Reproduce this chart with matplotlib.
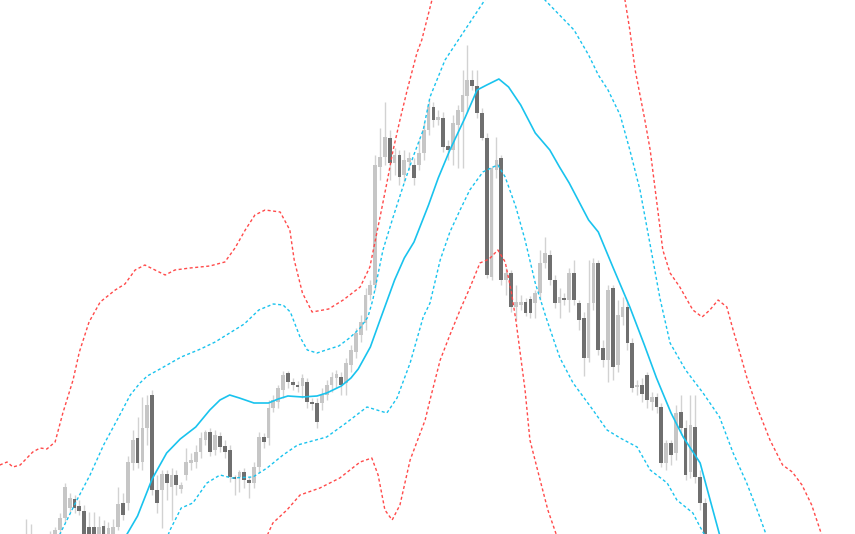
import matplotlib
matplotlib.use("Agg")
import matplotlib.pyplot as plt
import numpy as np

# Candles (vertical values in screen units, 0 = top, 534 = bottom)
opens = [546, 537, 545, 552, 548, 542, 538, 530, 518, 508, 499, 506, 511, 527, 527, 540, 526, 540, 540, 527,
         503, 503, 463, 438, 462, 428, 395, 490, 490, 474, 487, 475, 489, 475, 463, 462, 452, 440, 432, 450,
         436, 446, 450, 477, 477, 472, 480, 483, 467, 437, 438, 408, 402, 390, 373, 382, 385, 386, 382, 402,
         403, 403, 395, 385, 378, 377, 383, 365, 352, 335, 323, 295, 285, 167, 157, 138, 163, 155, 175, 162,
         165, 165, 153, 130, 107, 120, 118, 146, 150, 125, 112, 96, 80, 86, 113, 138, 277, 170, 158, 280,
         273, 307, 305, 302, 299, 303, 293, 263, 255, 280, 303, 298, 300, 273, 303, 318, 358, 303, 263, 348,
         360, 288, 365, 317, 307, 343, 387, 385, 375, 402, 397, 407, 463, 443, 453, 412, 428, 472, 427, 477,
         503]
closes = [538, 548, 555, 545, 540, 535, 530, 518, 487, 498, 508, 511, 540, 540, 540, 527, 540, 528, 527, 504,
          515, 462, 440, 463, 428, 405, 490, 503, 474, 483, 475, 485, 485, 462, 460, 452, 438, 432, 452, 435,
          447, 452, 477, 479, 472, 480, 483, 467, 437, 442, 408, 400, 388, 375, 382, 385, 387, 378, 402, 404,
          422, 395, 385, 377, 374, 385, 363, 350, 333, 322, 295, 285, 165, 157, 137, 163, 155, 177, 160, 158,
          178, 153, 130, 107, 120, 117, 147, 150, 123, 110, 95, 80, 86, 113, 138, 275, 168, 160, 280, 273,
          307, 302, 302, 313, 313, 293, 263, 253, 280, 303, 297, 300, 273, 300, 320, 358, 303, 263, 350, 360,
          290, 367, 315, 307, 343, 388, 385, 394, 400, 397, 407, 463, 443, 455, 413, 428, 475, 425, 477, 503,
          540]
highs = [519, 524, 538, 540, 536, 531, 527, 513, 483, 493, 495, 500, 505, 512, 512, 516, 520, 522, 519, 487,
         493, 456, 430, 417, 397, 395, 390, 475, 470, 470, 468, 470, 482, 448, 453, 445, 432, 430, 428, 430,
         432, 440, 445, 475, 470, 468, 477, 462, 432, 433, 400, 395, 385, 371, 371, 378, 381, 374, 378, 398,
         398, 388, 380, 372, 370, 372, 358, 345, 328, 315, 288, 280, 155, 128, 102, 130, 148, 150, 150, 152,
         158, 140, 122, 100, 102, 110, 112, 140, 115, 105, 70, 45, 70, 70, 108, 133, 166, 137, 155, 268,
         270, 285, 295, 298, 296, 290, 250, 237, 250, 275, 288, 293, 268, 260, 300, 312, 260, 258, 260, 340,
         285, 285, 300, 297, 300, 338, 380, 378, 372, 392, 393, 403, 440, 440, 405, 395, 420, 395, 395, 470,
         498]
lows = [552, 552, 560, 558, 552, 548, 542, 535, 522, 512, 513, 515, 545, 545, 545, 545, 545, 545, 545, 530,
        520, 510, 470, 468, 470, 445, 495, 513, 528, 500, 520, 495, 493, 480, 470, 468, 458, 445, 456, 455,
        452, 458, 482, 495, 492, 488, 498, 488, 472, 448, 445, 412, 408, 398, 388, 390, 392, 398, 408, 410,
        428, 410, 400, 392, 388, 395, 395, 372, 358, 342, 330, 300, 290, 180, 165, 180, 175, 185, 182, 170,
        185, 170, 160, 135, 127, 125, 152, 160, 165, 168, 168, 112, 90, 118, 140, 278, 280, 178, 285, 295,
        312, 320, 310, 316, 318, 318, 300, 268, 285, 308, 318, 305, 312, 305, 330, 376, 362, 310, 355, 367,
        382, 380, 372, 325, 350, 392, 395, 402, 408, 410, 413, 467, 470, 465, 460, 435, 480, 478, 483, 510,
        548]

# Bands: (bar number, value) pairs
mid_x = [20, 23, 26, 29, 31.8, 35, 37.9, 40, 42, 44, 47, 50, 52, 54, 57, 60, 62, 65, 67, 68.5,
         71, 73, 76, 78, 80, 83, 85, 87.4, 90.5, 93, 95, 97.5, 99.5, 102, 105, 108, 110, 112, 116, 118,
         121, 124.5, 127.5, 130, 133, 135.5, 139, 140.5, 143.3]
mid_y = [541, 516, 479, 453, 439, 427, 410, 400, 395, 398, 403, 403, 399, 396, 397, 396, 393, 386, 378, 369,
         347, 320, 280, 258, 242, 205, 178, 150, 118, 90, 85, 79, 87, 105, 133, 150, 167, 183, 220, 232,
         267, 307, 345, 378, 413, 437, 463, 490, 540]

up_in_x = [6.5, 7, 10.5, 13.2, 16, 19, 21.5, 23.5, 25, 28, 32, 36, 39, 42, 45, 48, 51, 53, 54.5, 56.5,
           58, 60, 62.5, 64.5, 66.7, 68.9, 70.5, 71.5, 73.6, 75.7, 77.7, 79.8, 81.9, 83.3, 86.4, 90.5, 94.6, 96]
up_in_y = [545, 534, 500, 475, 445, 418, 395, 383, 376, 368, 357, 349, 342, 333, 324, 310, 304, 305, 312, 337,
           350, 353, 349, 346, 338, 328, 317, 300, 250, 217, 187, 157, 130, 97, 60, 30, 0, -20]
up_in2_x = [106, 107, 110, 113, 116, 118, 120, 122.5, 124.5, 126.6, 128.7, 130.7, 132.8, 136, 139.6, 143,
            145.8, 148.6, 151.3, 153]
up_in2_y = [-20, 0, 15, 30, 55, 75, 90, 115, 150, 190, 245, 298, 343, 370, 393, 417, 453, 483, 517, 540]

lo_in_x = [28.5, 29.7, 32, 34.4, 37.3, 40, 42.5, 46.8, 49.7, 53, 56, 62, 66, 70.3, 74.4, 76.5, 79.2, 81.9,
           83.3, 85.4, 87.4, 89.5, 91.5, 94.2, 96.3, 97.3, 98.8, 101, 102.9, 105, 107.2, 109.3, 110.1, 112.8,
           116.9, 119.8, 122.5, 126, 128.7, 132.2, 134.2, 137.5, 139, 140.5]
lo_in_y = [545, 530, 508, 503, 483, 475, 478, 477, 468, 455, 445, 437, 423, 407, 413, 398, 363, 317,
           303, 260, 232, 210, 190, 172, 167, 165, 177, 207, 240, 283, 317, 347, 358, 383,
           410, 430, 438, 447, 470, 483, 500, 513, 527, 540]

up_out_x = [-5.4, -3.9, -2.7, -1.2, 1.4, 2.9, 4.3, 6, 7.6, 9.7, 11, 13, 15.3, 18.4, 20.4, 22.5, 24.5, 26.6,
            28.7, 30.7, 33.8, 37.9, 41, 43.1, 45.2, 47.2, 49.3, 52.4, 54.4, 55.3, 57, 59, 62.4, 65.4, 68.9,
            70.9, 73, 74.4, 75.7, 77.1, 78.6, 80.6, 81.6, 83.7, 85]
up_out_y = [465, 462, 467, 465, 452, 448, 449, 442, 413, 380, 352, 322, 302, 290, 284, 270, 265, 270,
            275, 270, 268, 266, 262, 248, 230, 215, 210, 212, 230, 260, 293, 312, 309, 300, 287,
            267, 217, 183, 150, 120, 90, 53, 40, 0, -30]
up_out2_x = [122.5, 123.5, 124.5, 125.6, 127.6, 128.7, 130, 131.3, 132.8, 134.8, 137.5, 139.4, 141, 142.7,
             144.5, 145.8, 147.2, 148.6, 150.7, 153.4, 156, 158, 160, 162, 164, 165]
up_out2_y = [-30, 0, 30, 70, 120, 150, 200, 250, 273, 287, 310, 317, 310, 300,
             307, 330, 353, 377, 407, 440, 465, 472, 485, 505, 534, 545]

lo_out_x = [49.3, 50.9, 53.8, 56.5, 60.6, 64.7, 68.9, 71.3, 72.6, 74, 75.5, 77.1, 79.2, 82.3, 83.3, 85.4,
            87.4, 89.5, 91.5, 93.6, 95.5, 97.3, 98.8, 100, 101, 102.9, 103.9, 106, 107.6, 109.3, 110]
lo_out_y = [540, 523, 510, 495, 488, 478, 462, 458, 475, 510, 520, 505, 460, 420, 400, 360, 335, 310,
            288, 263, 259, 250, 262, 290, 320, 390, 440, 480, 510, 534, 545]

BULL = '#c6c6c6'
BEAR = '#6f6f6f'
WICK = '#d2d2d2'
CYAN = '#19c3ee'
RED = '#ff4a4a'

fig = plt.figure(figsize=(8.55, 5.34), dpi=100, facecolor='white')
ax = fig.add_axes([0, 0, 1, 1])
ax.set_facecolor('white')

idx = np.arange(len(opens))
o = np.array(opens, dtype=float)
c = np.array(closes, dtype=float)
bull = c <= o  # screen units: smaller value is higher price

ax.vlines(idx, highs, lows, color=WICK, linewidth=1.0, zorder=1)
body_top = np.minimum(o, c)
body_h = np.maximum(np.abs(o - c), 1.5)
ax.bar(idx, body_h, bottom=body_top, width=0.78,
       color=np.where(bull, BULL, BEAR), linewidth=0, zorder=2)

dash = (0, (2.2, 1.8))
ax.plot(up_out_x, up_out_y, color=RED, lw=1.0, ls=dash, zorder=3)
ax.plot(up_out2_x, up_out2_y, color=RED, lw=1.0, ls=dash, zorder=3)
ax.plot(lo_out_x, lo_out_y, color=RED, lw=1.0, ls=dash, zorder=3)
ax.plot(up_in_x, up_in_y, color=CYAN, lw=1.0, ls=dash, zorder=3)
ax.plot(up_in2_x, up_in2_y, color=CYAN, lw=1.0, ls=dash, zorder=3)
ax.plot(lo_in_x, lo_in_y, color=CYAN, lw=1.0, ls=dash, zorder=3)
ax.plot(mid_x, mid_y, color=CYAN, lw=1.2, zorder=4)

# 1 bar = 4.85 px, first bar sits at x = 26 px
ax.set_xlim(-26 / 4.85, (855 - 26) / 4.85)
ax.set_ylim(534, 0)
ax.axis('off')

plt.savefig('out.png', dpi=100, facecolor='white')
